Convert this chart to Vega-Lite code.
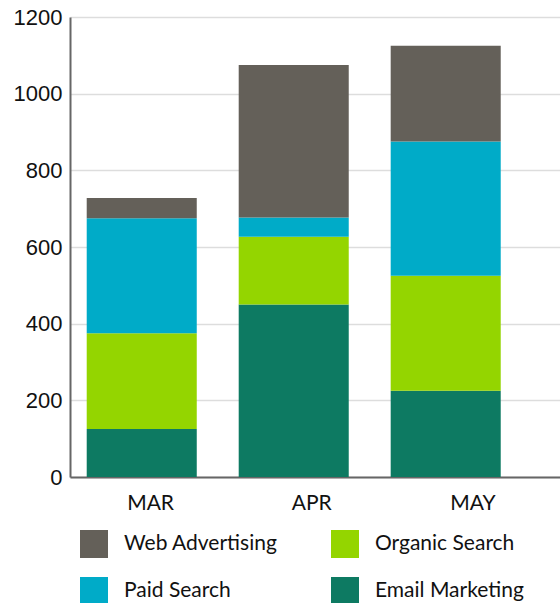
{
  "$schema": "https://vega.github.io/schema/vega-lite/v6.json",
  "width": 490,
  "height": 460,
  "autosize": {"type": "none"},
  "padding": {"left": 70, "top": 17, "right": 0, "bottom": 126},
  "background": "white",
  "config": {"view": {"stroke": null}},
  "data": {
    "values": [
      {"month": "MAR", "series": "Email Marketing", "value": 125},
      {"month": "MAR", "series": "Organic Search", "value": 250},
      {"month": "MAR", "series": "Paid Search", "value": 300},
      {"month": "MAR", "series": "Web Advertising", "value": 53},
      {"month": "APR", "series": "Email Marketing", "value": 450},
      {"month": "APR", "series": "Organic Search", "value": 177},
      {"month": "APR", "series": "Paid Search", "value": 50},
      {"month": "APR", "series": "Web Advertising", "value": 398},
      {"month": "MAY", "series": "Email Marketing", "value": 225},
      {"month": "MAY", "series": "Organic Search", "value": 300},
      {"month": "MAY", "series": "Paid Search", "value": 350},
      {"month": "MAY", "series": "Web Advertising", "value": 250}
    ]
  },
  "layer": [
    {
      "mark": {"type": "bar"},
      "encoding": {
        "x": {
          "field": "month",
          "type": "nominal",
          "sort": ["MAR", "APR", "MAY"],
          "scale": {"paddingInner": 0.276, "paddingOuter": 0.25, "align": 0.22},
          "axis": null
        },
        "y": {
          "field": "value",
          "type": "quantitative",
          "aggregate": "sum",
          "stack": "zero",
          "scale": {"domain": [0, 1200], "nice": false},
          "axis": {
            "title": null,
            "values": [0, 200, 400, 600, 800, 1000, 1200],
            "format": "d",
            "labelFont": "Liberation Sans",
            "labelFontSize": 22,
            "labelColor": "#111111",
            "labelPadding": 8,
            "ticks": false,
            "domainColor": "#666666",
            "domainWidth": 2,
            "gridColor": "#dddddd",
            "gridWidth": 1.5
          }
        },
        "color": {
          "field": "series",
          "type": "nominal",
          "scale": {
            "domain": ["Web Advertising", "Paid Search", "Organic Search", "Email Marketing"],
            "range": ["#646059", "#00abc8", "#94d500", "#0d7a62"]
          },
          "legend": {
            "title": null,
            "orient": "none",
            "legendX": 10,
            "legendY": 513,
            "columns": 2,
            "columnPadding": 53,
            "rowPadding": 19,
            "symbolType": "square",
            "symbolSize": 784,
            "symbolStrokeWidth": 0,
            "symbolOpacity": 1,
            "labelFont": "Lato",
            "labelFontSize": 21,
            "labelColor": "#111111",
            "labelOffset": 16,
            "labelLimit": 300
          }
        },
        "order": {"field": "series", "sort": "ascending"}
      }
    },
    {
      "mark": {"type": "point", "opacity": 0},
      "encoding": {
        "x": {
          "field": "month",
          "type": "nominal",
          "sort": ["MAR", "APR", "MAY"],
          "scale": {"type": "band", "paddingInner": 0, "paddingOuter": 0.02, "align": 0},
          "axis": {
            "title": null,
            "labelAngle": 0,
            "labelFont": "Lato",
            "labelFontSize": 21,
            "labelColor": "#111111",
            "labelPadding": 15,
            "ticks": false,
            "grid": false,
            "domainColor": "#666666",
            "domainWidth": 2
          }
        }
      }
    }
  ],
  "resolve": {"scale": {"x": "independent"}, "axis": {"x": "independent"}}
}
